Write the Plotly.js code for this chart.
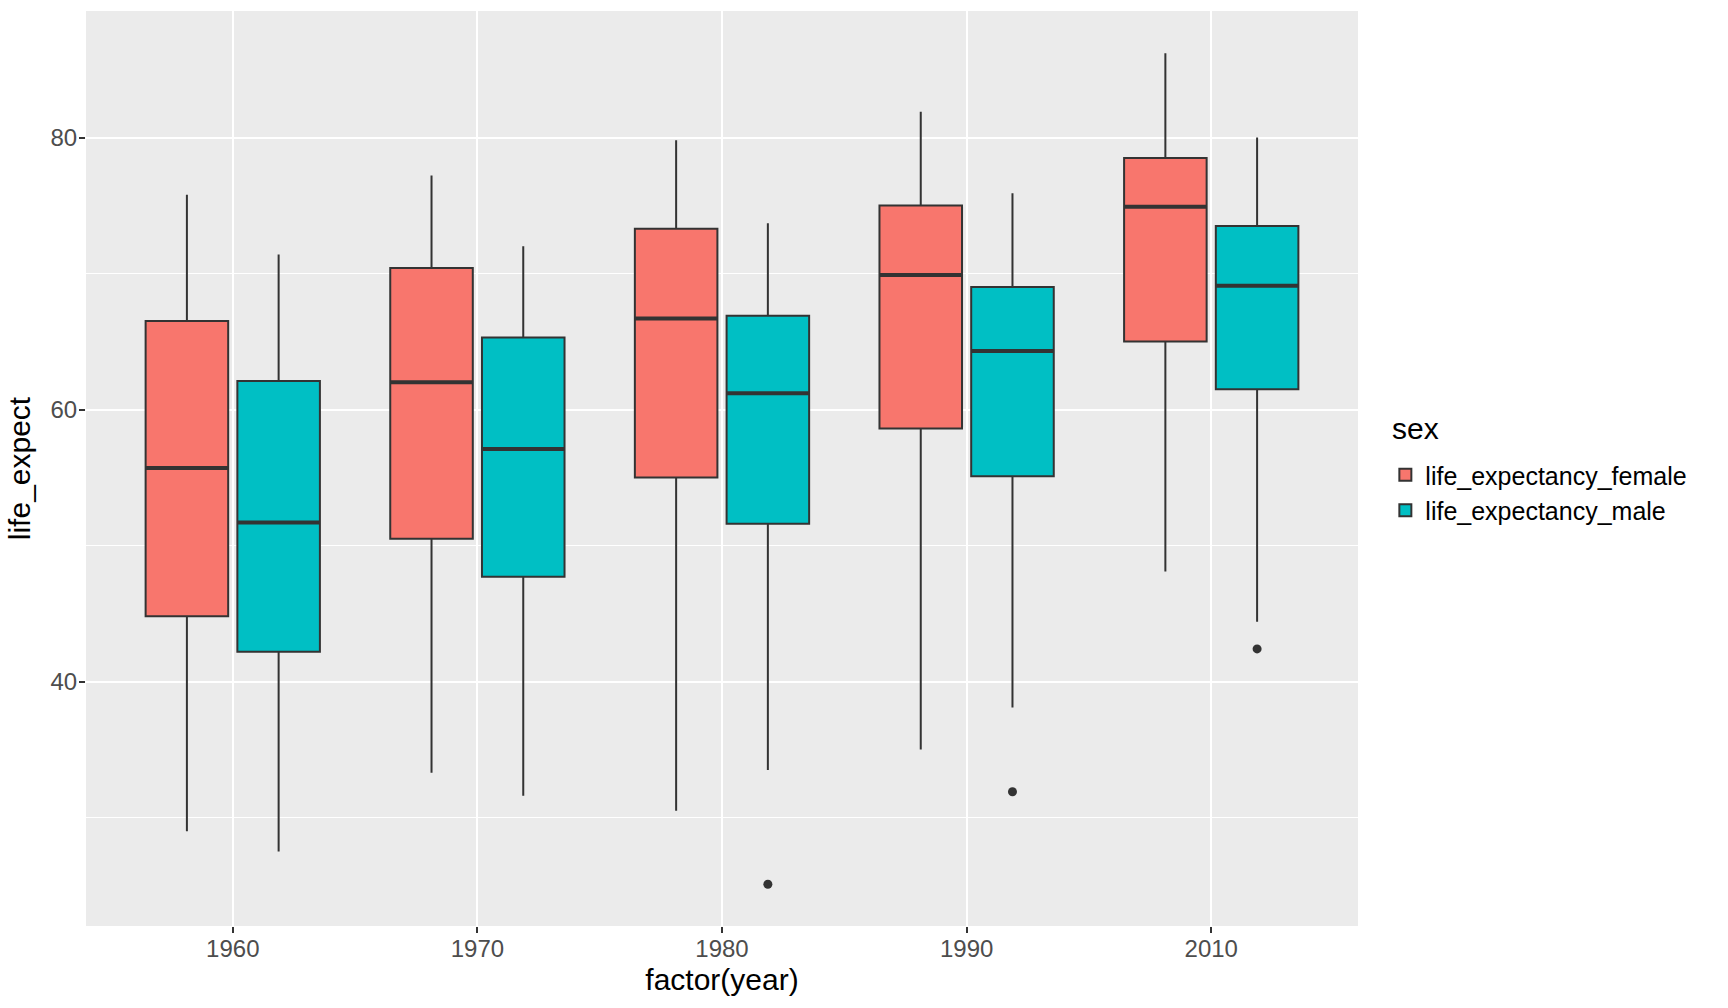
<!DOCTYPE html>
<html>
<head>
<meta charset="utf-8">
<script src="https://cdn.plot.ly/plotly-3.0.1.min.js"></script>
<style>
  html, body { margin: 0; padding: 0; background: #ffffff; }
  #myDiv { width: 1728px; height: 1008px; }
</style>
</head>
<body>
<div id="myDiv"></div>
<script>
// Datos
var years = ['1960', '1970', '1980', '1990', '2010'];

var femUpper  = [75.8, 77.2, 79.8, 81.9, 86.2];
var femQ3     = [66.5, 70.4, 73.3, 75.0, 78.5];
var femMedian = [55.7, 62.0, 66.7, 69.9, 74.9];
var femQ1     = [44.8, 50.5, 55.0, 58.6, 65.0];
var femLower  = [29.0, 33.3, 30.5, 35.0, 48.1];

var maleUpper  = [71.4, 72.0, 73.7, 75.9, 80.0];
var maleQ3     = [62.1, 65.3, 66.9, 69.0, 73.5];
var maleMedian = [51.7, 57.1, 61.2, 64.3, 69.1];
var maleQ1     = [42.2, 47.7, 51.6, 55.1, 61.5];
var maleLower  = [27.5, 31.6, 33.5, 38.1, 44.4];

// Outliers (solo en male)
var outYear  = ['1980', '1990', '2010'];
var outValue = [25.1, 31.9, 42.4];

// Estilo
var boxW = 0.3375,
    dodge = 0.1875;
var lineCol = '#333333';
var font = 'Liberation Sans, Arial, sans-serif';

function posOf(yr, off) {
    return years.indexOf(yr) + off;
}

function boxTrace(name, color, off, lower, q1, med, q3, upper) {
    var xs = years.map(function (yr) { return posOf(yr, off); });
    return {
        type: 'box',
        name: name,
        x: xs,
        lowerfence: lower,
        q1: q1,
        median: med,
        q3: q3,
        upperfence: upper,
        width: boxW,
        whiskerwidth: 0,
        boxpoints: false,
        fillcolor: color,
        line: { color: lineCol, width: 2 },
        hoverinfo: 'skip'
    };
}

// Lineas de mediana mas gruesas (como fatten en ggplot)
function medianTrace(off, med) {
    var x = [], y = [];
    for (var i = 0; i < years.length; i++) {
        var c = posOf(years[i], off);
        x.push(c - boxW / 2, c + boxW / 2, null);
        y.push(med[i], med[i], null);
    }
    return {
        type: 'scatter', mode: 'lines', x: x, y: y,
        line: { color: lineCol, width: 4 },
        showlegend: false, hoverinfo: 'skip'
    };
}

var data = [
    boxTrace('life_expectancy_female', '#F8766D', -dodge, femLower, femQ1, femMedian, femQ3, femUpper),
    boxTrace('life_expectancy_male', '#00BFC4', dodge, maleLower, maleQ1, maleMedian, maleQ3, maleUpper),
    medianTrace(-dodge, femMedian),
    medianTrace(dodge, maleMedian),
    {
        type: 'scatter', mode: 'markers',
        x: outYear.map(function (yr) { return posOf(yr, dodge); }),
        y: outValue,
        marker: { color: lineCol, size: 9 },
        showlegend: false, hoverinfo: 'skip'
    }
];

var layout = {
    width: 1728,
    height: 1008,
    paper_bgcolor: '#ffffff',
    plot_bgcolor: '#EBEBEB',
    margin: { l: 86, r: 370, t: 11, b: 82 },
    font: { family: font, size: 24, color: '#4D4D4D' },
    showlegend: true,
    xaxis: {
        range: [-0.6, 4.6],
        tickmode: 'array',
        tickvals: [0, 1, 2, 3, 4],
        ticktext: years,
        showgrid: true,
        gridcolor: '#ffffff',
        gridwidth: 2,
        zeroline: false,
        showline: false,
        ticks: 'outside',
        ticklen: 6,
        tickwidth: 2,
        tickcolor: lineCol,
        ticklabelstandoff: -5,
        tickfont: { family: font, size: 24, color: '#4D4D4D' },
        title: { text: 'factor(year)', font: { family: font, size: 30, color: '#000000' }, standoff: 8 }
    },
    yaxis: {
        range: [22.03, 89.3],
        tickmode: 'array',
        tickvals: [40, 60, 80],
        showgrid: true,
        gridcolor: '#ffffff',
        gridwidth: 2,
        minor: { tickmode: 'array', tickvals: [30, 50, 70], showgrid: true, gridcolor: '#ffffff', gridwidth: 1, ticks: '' },
        zeroline: false,
        showline: false,
        ticks: 'outside',
        ticklen: 6,
        tickwidth: 2,
        tickcolor: lineCol,
        ticklabelstandoff: -3,
        tickfont: { family: font, size: 24, color: '#4D4D4D' },
        title: { text: 'life_expect', font: { family: font, size: 30, color: '#000000' }, standoff: 10 }
    },
    legend: {
        x: 1.0215,
        xanchor: 'left',
        y: 0.518,
        yanchor: 'top',
        font: { family: font, size: 25, color: '#000000' },
        bgcolor: 'rgba(0,0,0,0)',
        tracegroupgap: 0
    },
    annotations: [{
        text: 'sex',
        xref: 'paper', yref: 'paper',
        x: 1.0255, xanchor: 'left',
        y: 0.544, yanchor: 'middle',
        showarrow: false,
        font: { family: font, size: 30, color: '#000000' }
    }]
};

var config = { staticPlot: true, responsive: false };
Plotly.newPlot('myDiv', data, layout, config);
</script>
</body>
</html>
